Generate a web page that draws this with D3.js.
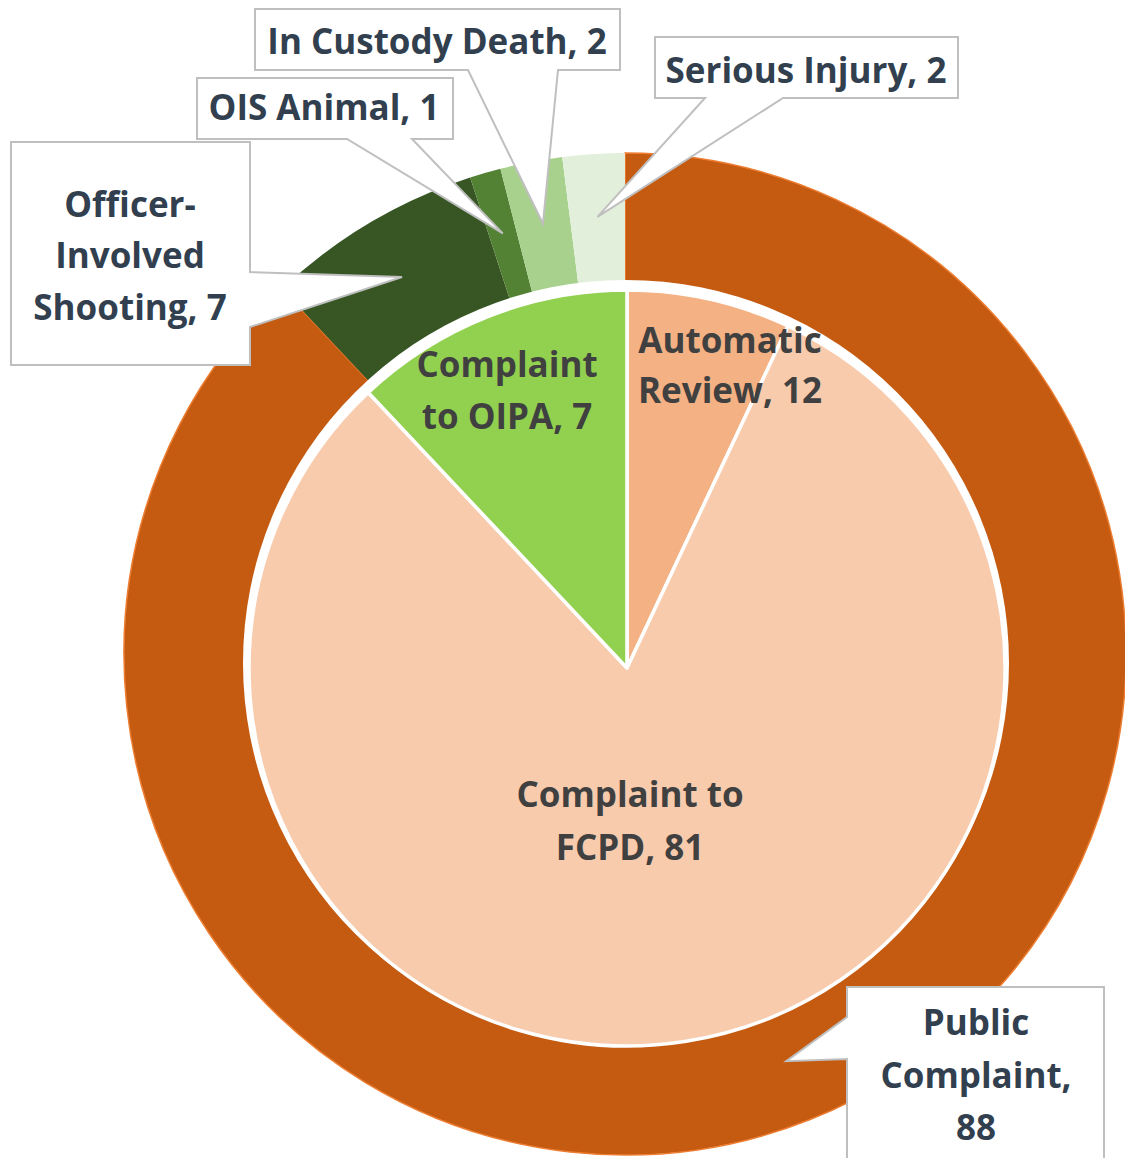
<!DOCTYPE html>
<html>
<head>
<meta charset="utf-8">
<script src="https://cdn.jsdelivr.net/npm/d3@7/dist/d3.min.js"></script>
<style>
  html, body { margin: 0; padding: 0; background: #ffffff; }
  svg { display: block; }
  text { font-family: "Open Sans", "Noto Sans", sans-serif; font-weight: 700; }
</style>
</head>
<body>
<svg id="chart" width="1125" height="1158"></svg>
<script>
// ---------- DATA ----------
const outerCategories = ["Public Complaint", "Officer-Involved Shooting", "OIS Animal", "In Custody Death", "Serious Injury"];
const outerValues = [88, 7, 1, 2, 2];

const innerCategories = ["Automatic Review", "Complaint to FCPD", "Complaint to OIPA"];
// slice sizes as drawn in the picture
const innerValues = [7, 81, 12];
// numbers printed in the picture's data labels
const innerLabelValues = [12, 81, 7];

// ---------- STYLE / LAYOUT ----------
const outerColors = ["#C55A11", "#375623", "#548235", "#A9D18E", "#E2EFDA"];
const innerColors = ["#F4B183", "#F8CBAD", "#92D050"];

const svg = d3.select("#chart");
const FS = 35;

const ring = { cx: 625, cy: 654, r0: 368, r1: 501, tipR: 438 };
const gapCircle = { cx: 626, cy: 663, r: 383 };
const pieC = { cx: 627, cy: 668, r: 378 };

// ---------- OUTER RING ----------
const pie = d3.pie().sort(null).value(d => d.value).startAngle(0).endAngle(2 * Math.PI);

const outerData = pie(outerCategories.map((c, i) => ({ name: c, value: outerValues[i], color: outerColors[i] })));
const innerData = pie(innerCategories.map((c, i) => ({ name: c, value: innerValues[i], label: innerLabelValues[i], color: innerColors[i] })));

const ringArc = d3.arc().innerRadius(ring.r0).outerRadius(ring.r1);
const gRing = svg.append("g").attr("transform", `translate(${ring.cx},${ring.cy})`);
gRing.selectAll("path").data(outerData).join("path")
  .attr("d", ringArc)
  .attr("fill", d => d.data.color)
  .attr("stroke", (d, i) => i === 0 ? "#ED7D31" : "none")
  .attr("stroke-width", 1.5);

// white gap between ring and pie
svg.append("circle")
  .attr("cx", gapCircle.cx).attr("cy", gapCircle.cy).attr("r", gapCircle.r)
  .attr("fill", "#ffffff");

// ---------- INNER PIE ----------
const pieArc = d3.arc().innerRadius(0).outerRadius(pieC.r);
const gPie = svg.append("g").attr("transform", `translate(${pieC.cx},${pieC.cy})`);
gPie.selectAll("path").data(innerData).join("path")
  .attr("d", pieArc)
  .attr("fill", d => d.data.color)
  .attr("stroke", "#ffffff")
  .attr("stroke-width", 3.5)
  .attr("stroke-linejoin", "round");

// ---------- CALLOUT LABELS (outer ring) ----------
const tipArc = d3.arc().innerRadius(ring.tipR).outerRadius(ring.tipR);
const callouts = [
  { box: [847, 987, 1104, 1175], side: "left",   base: [1017, 1059], lines: ["Public", "Complaint,", "{v}"], tx: 976, ty: [1035, 1088, 1140] },
  { box: [11, 142, 250, 365],    side: "right",  base: [272, 327],   lines: ["Officer-", "Involved", "Shooting, {v}"], tx: 130, ty: [217, 268, 320] },
  { box: [197, 78, 453, 139],    side: "bottom", base: [347, 412],   lines: ["OIS Animal, {v}"], tx: 324, ty: [120] },
  { box: [255, 9, 620, 70],      side: "bottom", base: [468, 558],   lines: ["In Custody Death, {v}"], tx: 437, ty: [54] },
  { box: [655, 37, 958, 98],     side: "bottom", base: [705, 783],   lines: ["Serious Injury, {v}"], tx: 806, ty: [83] }
];

const gCall = svg.append("g");
outerData.forEach((d, i) => {
  const c = callouts[i];
  const [x0, y0, x1, y1] = c.box;
  const cen = tipArc.centroid(d);
  const tx = cen[0] + ring.cx, ty = cen[1] + ring.cy;
  let p;
  if (c.side === "bottom") {
    p = `M${x0},${y0} L${x1},${y0} L${x1},${y1} L${c.base[1]},${y1} L${tx},${ty} L${c.base[0]},${y1} L${x0},${y1} Z`;
  } else if (c.side === "right") {
    p = `M${x0},${y0} L${x1},${y0} L${x1},${c.base[0]} L${tx},${ty} L${x1},${c.base[1]} L${x1},${y1} L${x0},${y1} Z`;
  } else {
    p = `M${x0},${y0} L${x1},${y0} L${x1},${y1} L${x0},${y1} L${x0},${c.base[1]} L${tx},${ty} L${x0},${c.base[0]} Z`;
  }
  gCall.append("path").attr("d", p)
    .attr("fill", "#ffffff").attr("stroke", "#BFBFBF").attr("stroke-width", 2)
    .attr("stroke-linejoin", "miter");
  c.lines.forEach((ln, k) => {
    gCall.append("text")
      .attr("x", c.tx).attr("y", c.ty[k])
      .attr("text-anchor", "middle")
      .attr("font-size", FS)
      .attr("fill", "#323F4F")
      .text(ln.replace("{v}", d.data.value));
  });
});

// ---------- INNER LABELS ----------
const innerLabels = [
  { lines: ["Automatic", "Review, {v}"], tx: 730, ty: [353, 403] },
  { lines: ["Complaint to", "FCPD, {v}"], tx: 630, ty: [807, 860] },
  { lines: ["Complaint", "to OIPA, {v}"], tx: 507, ty: [377, 429] }
];
const gLab = svg.append("g");
innerData.forEach((d, i) => {
  const l = innerLabels[i];
  l.lines.forEach((ln, k) => {
    gLab.append("text")
      .attr("x", l.tx).attr("y", l.ty[k])
      .attr("text-anchor", "middle")
      .attr("font-size", FS)
      .attr("fill", "#404040")
      .text(ln.replace("{v}", d.data.label));
  });
});
</script>
</body>
</html>
